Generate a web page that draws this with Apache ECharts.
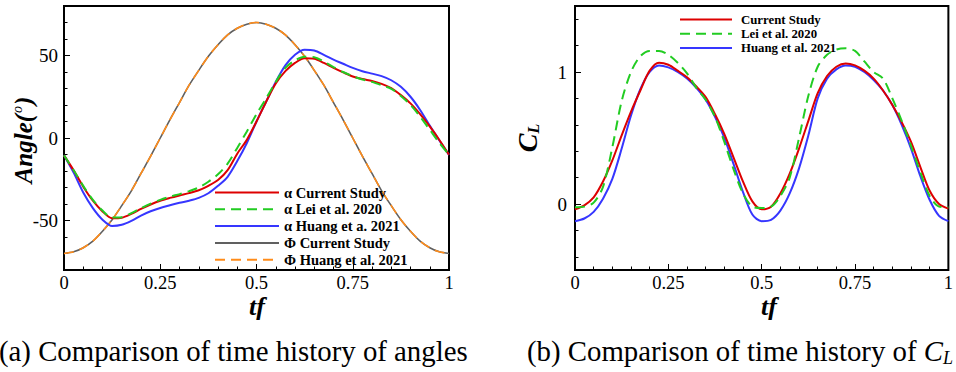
<!DOCTYPE html>
<html>
<head>
<meta charset="utf-8">
<script src="https://cdn.jsdelivr.net/npm/echarts@6/dist/echarts.min.js"></script>
<style>
html,body{margin:0;padding:0;background:#fff;}
#chart{width:956px;height:372px;}
</style>
</head>
<body>
<div id="chart"></div>
<script>
// ---- data ----
const tf = [0,0.025,0.05,0.075,0.1,0.125,0.15,0.175,0.2,0.225,0.25,0.275,0.3,0.325,0.35,0.375,0.4,0.425,0.45,0.475,0.5,
            0.525,0.55,0.575,0.6,0.625,0.65,0.675,0.7,0.725,0.75,0.775,0.8,0.825,0.85,0.875,0.9,0.925,0.95,0.975,1];

const alphaCurrent = [-10.5,-19.5,-29.5,-38,-44.5,-48.6,-48.3,-46,-43,-40.3,-38,-36.3,-34.8,-33.4,-31.7,-29,-25.5,-19.5,-9.5,-1,10,
                      22,33,40.5,45.5,48.3,48,45.5,42.5,39.8,37.3,35.7,34.6,32.8,30.2,26,21,14.5,7,-1.2,-10.2];
const alphaLei = [-10.5,-19.5,-29,-37.5,-44,-48.2,-48,-45.5,-42.5,-39.8,-37.5,-35.6,-34,-32.2,-30,-26.5,-22,-15.5,-6,4,14.5,
                  24,34,42.5,47,49.3,49,46.3,43,40,37.5,35.5,34,32,29.8,25.5,20,13,5,-3,-10.2];
const alphaHuang = [-10.5,-21,-33,-42.5,-49.5,-53.3,-52.6,-50.2,-47,-44.4,-42.4,-40.8,-39.3,-38,-36.3,-33.5,-29,-23.5,-14,-3,10,
                    22,34,44,50.5,53.5,53,50.4,47.5,45,42.5,40.5,39,37.5,35,31,25,17,7.5,-1.5,-10.2];
const phiCurrent = [-70,-69,-66.5,-62.5,-56.5,-49.5,-41,-32,-21.5,-11,0,11,21.5,32,41,49.5,56.5,62.5,66.5,69,70,
                    69,66.5,62.5,56.5,49.5,41,32,21.5,11,0,-11,-21.5,-32,-41,-49.5,-56.5,-62.5,-66.5,-69,-70];
const phiHuang = [-70,-69,-66.5,-62.5,-56.5,-49.5,-41,-32,-21.5,-11,0,11,21.5,32,41,49.5,56.5,62.5,66.5,69,70,
                  69,66.5,62.5,56.5,49.5,41,32,21.5,11,0,-11,-21.5,-32,-41,-49.5,-56.5,-62.5,-66.5,-69,-70];

const clCurrent = [-0.04,-0.01,0.05,0.17,0.33,0.52,0.70,0.86,1.01,1.07,1.055,1.01,0.96,0.89,0.81,0.68,0.53,0.35,0.17,0.02,-0.04,
                   -0.02,0.08,0.23,0.42,0.63,0.84,0.97,1.04,1.065,1.05,1.01,0.95,0.86,0.75,0.62,0.47,0.28,0.10,0.0,-0.035];
const clLei = [-0.025,-0.02,0.01,0.13,0.43,0.78,1.0,1.12,1.16,1.16,1.13,1.07,0.99,0.88,0.79,0.66,0.47,0.26,0.08,-0.02,-0.03,
               -0.02,0.06,0.2,0.5,0.82,1.04,1.13,1.17,1.18,1.16,1.08,1.0,0.95,0.80,0.63,0.44,0.24,0.06,-0.02,-0.025];
const clHuang = [-0.13,-0.11,-0.06,0.04,0.19,0.42,0.67,0.87,1.0,1.05,1.035,1.0,0.95,0.88,0.79,0.66,0.50,0.30,0.09,-0.08,-0.13,
                 -0.12,-0.05,0.08,0.27,0.52,0.80,0.95,1.02,1.05,1.04,1.0,0.94,0.86,0.75,0.60,0.42,0.21,0.03,-0.09,-0.13];

const angleTicks = [-50, 0, 50];
const angleMinorTicks = [-70,-60,-50,-40,-30,-20,-10,0,10,20,30,40,50,60,70];
const clTicks = [0, 1];
const clMinorTicks = [-0.4,-0.2,0,0.2,0.4,0.6,0.8,1,1.2,1.4];
const tfTicks = [0, 0.25, 0.5, 0.75, 1];

const namesLeft = ['α Current Study','α Lei et al. 2020','α Huang et a. 2021','Φ Current Study','Φ Huang et al. 2021'];
const namesRight = ['Current Study','Lei et al. 2020','Huang et al. 2021'];

// ---- chart ----
const pair = arr => tf.map((t, i) => [t, arr[i]]);
const SERIF = 'Liberation Serif';
const chart = echarts.init(document.getElementById('chart'), null, {renderer: 'svg'});

function xAxisCfg(grid) {
  return {
    type: 'value', gridIndex: grid, min: 0, max: 1, interval: 0.25, position: 'bottom',
    axisLine: {show: false, onZero: false},
    axisTick: {show: true, inside: true, length: 6, lineStyle: {color: '#000', width: 1}},
    minorTick: {show: true, splitNumber: 5, length: 3.5, lineStyle: {color: '#000', width: 1}},
    splitLine: {show: false},
    axisLabel: {fontFamily: SERIF, fontSize: 18.5, lineHeight: 17, color: '#000', margin: 4,
                customValues: tfTicks, formatter: v => String(v)}
  };
}
function yMain(grid, min, max, ticks, margin) {
  return {
    type: 'value', gridIndex: grid, min: min, max: max, position: 'left',
    axisLine: {show: false, onZero: false},
    axisTick: {show: true, inside: true, length: 6, customValues: ticks, lineStyle: {color: '#000', width: 1}},
    splitLine: {show: false},
    axisLabel: {fontFamily: SERIF, fontSize: 19, color: '#000', margin: margin, customValues: ticks, formatter: v => String(v)}
  };
}
function yMinor(grid, min, max, ticks) {
  return {
    type: 'value', gridIndex: grid, min: min, max: max, position: 'left',
    axisLine: {show: false, onZero: false},
    axisTick: {show: true, inside: true, length: 3.5, customValues: ticks, lineStyle: {color: '#000', width: 1}},
    splitLine: {show: false},
    axisLabel: {show: false}
  };
}
function line(name, data, xi, yi, color, width, dashed, z) {
  return {
    name: name, type: 'line', xAxisIndex: xi, yAxisIndex: yi, data: data,
    symbol: 'none', showSymbol: false, smooth: 0.3, z: z,
    lineStyle: {color: color, width: width, type: dashed ? [10, 6] : 'solid'},
    itemStyle: {color: color}
  };
}

const option = {
  animation: false,
  backgroundColor: '#fff',
  grid: [
    {left: 64, top: 6, width: 385, height: 264, show: true, borderColor: '#000', borderWidth: 2, backgroundColor: 'transparent'},
    {left: 575, top: 6, width: 385, height: 264, show: true, borderColor: '#000', borderWidth: 2, backgroundColor: 'transparent'}
  ],
  xAxis: [xAxisCfg(0), xAxisCfg(1)],
  yAxis: [
    yMain(0, -80, 80, angleTicks, 6),
    yMinor(0, -80, 80, angleMinorTicks),
    yMain(1, -0.5, 1.5, clTicks, 8),
    yMinor(1, -0.5, 1.5, clMinorTicks)
  ],
  legend: [
    {
      orient: 'vertical', left: 209, top: 180, padding: 5, itemWidth: 64, itemHeight: 14, itemGap: 1.8,
      data: namesLeft, selectedMode: false, itemStyle: {opacity: 0},
      textStyle: {fontFamily: SERIF, fontWeight: 'bold', fontSize: 14.5, lineHeight: 14, color: '#000'}
    },
    {
      orient: 'vertical', left: 674, top: 8, padding: 5, itemWidth: 52, itemHeight: 13, itemGap: 1.2,
      data: namesRight, selectedMode: false, itemStyle: {opacity: 0},
      textStyle: {fontFamily: SERIF, fontWeight: 'bold', fontSize: 12.8, lineHeight: 13, color: '#000', padding: [0, 0, 0, 4]}
    }
  ],
  series: [
    line(namesLeft[3], pair(phiCurrent), 0, 0, '#606060', 1.6, false, 2),
    line(namesLeft[4], pair(phiHuang), 0, 0, '#ff8c1a', 1.6, true, 3),
    line(namesLeft[0], pair(alphaCurrent), 0, 0, '#dd0000', 2, false, 4),
    line(namesLeft[1], pair(alphaLei), 0, 0, '#22cc22', 2, true, 5),
    line(namesLeft[2], pair(alphaHuang), 0, 0, '#3636ff', 2, false, 3),
    line(namesRight[0], pair(clCurrent), 1, 2, '#dd0000', 2, false, 4),
    line(namesRight[1], pair(clLei), 1, 2, '#22cc22', 2, true, 5),
    line(namesRight[2], pair(clHuang), 1, 2, '#3636ff', 2, false, 3)
  ],
  graphic: [
    {
      type: 'text', x: 23, y: 140, rotation: Math.PI / 2,
      style: {
        text: '{a|Angle(}{s|o}{a|)}', align: 'center', verticalAlign: 'middle',
        rich: {
          a: {fontFamily: SERIF, fontWeight: 'bold', fontStyle: 'italic', fontSize: 25, fill: '#000', lineHeight: 26},
          s: {fontFamily: SERIF, fontStyle: 'italic', fontSize: 14, fill: '#000', verticalAlign: 'top', lineHeight: 26, padding: [0, 1, 12, 1]}
        }
      }
    },
    {
      type: 'text', x: 527, y: 138, rotation: Math.PI / 2,
      style: {
        text: '{c|C}{l|L}', align: 'center', verticalAlign: 'middle',
        rich: {
          c: {fontFamily: SERIF, fontWeight: 'bold', fontStyle: 'italic', fontSize: 28, fill: '#000', lineHeight: 28},
          l: {fontFamily: SERIF, fontWeight: 'bold', fontStyle: 'italic', fontSize: 16, fill: '#000', lineHeight: 28, verticalAlign: 'bottom', padding: [10, 0, 0, 0]}
        }
      }
    },
    {
      type: 'text', x: 257, y: 306,
      style: {text: 'tf', align: 'center', verticalAlign: 'middle', fontFamily: SERIF, fontWeight: 'bold', fontStyle: 'italic', fontSize: 26, lineHeight: 16, fill: '#000'}
    },
    {
      type: 'text', x: 769, y: 306,
      style: {text: 'tf', align: 'center', verticalAlign: 'middle', fontFamily: SERIF, fontWeight: 'bold', fontStyle: 'italic', fontSize: 26, lineHeight: 16, fill: '#000'}
    },
    {
      type: 'text', x: -1, y: 351,
      style: {text: '(a) Comparison of time history of angles', align: 'left', verticalAlign: 'middle', fontFamily: SERIF, fontSize: 28.8, fill: '#000'}
    },
    {
      type: 'text', x: 527, y: 351,
      style: {
        text: '{n|(b) Comparison of time history of }{c|C}{l|L}', align: 'left', verticalAlign: 'middle',
        rich: {
          n: {fontFamily: SERIF, fontSize: 28.8, fill: '#000', lineHeight: 32},
          c: {fontFamily: SERIF, fontStyle: 'italic', fontSize: 28.8, fill: '#000', lineHeight: 32},
          l: {fontFamily: SERIF, fontStyle: 'italic', fontSize: 18, fill: '#000', lineHeight: 32, verticalAlign: 'bottom', padding: [8, 0, 0, 0]}
        }
      }
    }
  ]
};
chart.setOption(option);
</script>
</body>
</html>
